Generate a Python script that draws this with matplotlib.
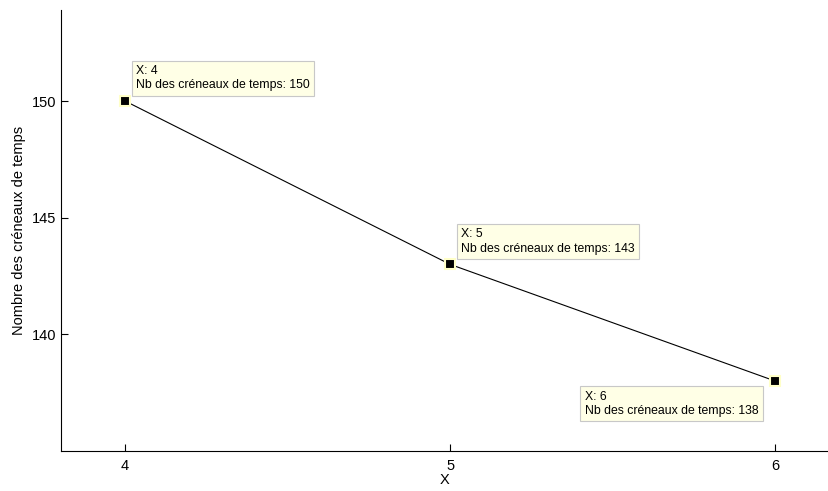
import numpy as np
import matplotlib.pyplot as plt

plt.rcParams['font.family'] = ['Liberation Sans', 'DejaVu Sans']

x = [4, 5, 6]
nb = [150, 143, 138]
# datatip box placement (offset in points, alignment) for each point
offsets = [(8, 7), (8, 7), (-12, -7)]
aligns = [('left', 'bottom'), ('left', 'bottom'), ('right', 'top')]

fig = plt.figure(figsize=(8.29, 4.91), dpi=100)
ax = fig.add_axes([61 / 829, 40 / 491, 768 / 829, 441 / 491])

ax.plot(x, nb, color='black', linewidth=0.8)
ax.plot(x, nb, linestyle='none', marker='s', markersize=7,
        markerfacecolor='black', markeredgecolor='#ffffc8', markeredgewidth=1.5)

for xi, yi, off, al in zip(x, nb, offsets, aligns):
    ax.annotate('X: %d\nNb des créneaux de temps: %d' % (xi, yi),
                xy=(xi, yi), xytext=off, textcoords='offset points',
                fontsize=8.8, ha=al[0], va=al[1], multialignment='left',
                linespacing=1.25,
                bbox=dict(boxstyle='square,pad=0.35', facecolor='#ffffe6',
                          edgecolor='#c8c8c8', linewidth=0.8))

ax.set_xlim(3.803, 6.166)
ax.set_ylim(135, 153.9)
ax.set_xticks([4, 5, 6])
ax.set_yticks([140, 145, 150])
ax.tick_params(direction='in', length=5, labelsize=10.5, width=0.8)
ax.tick_params(axis='x', pad=6)
ax.spines['top'].set_visible(False)
ax.spines['right'].set_visible(False)
ax.set_xlabel('X', fontsize=10.5, labelpad=0)
ax.set_ylabel('Nombre des créneaux de temps', fontsize=10.5, labelpad=4)

fig.savefig('out.png', dpi=100)
